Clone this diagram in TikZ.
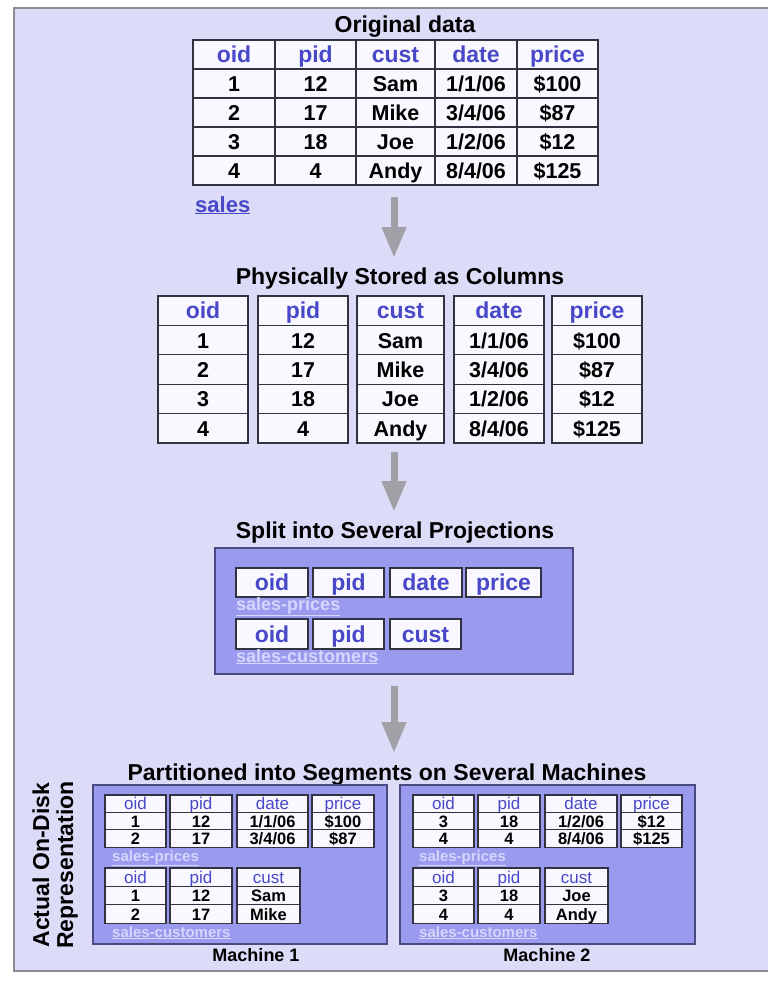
\documentclass[tikz,border=0pt]{standalone}
\usepackage{fontspec}
\setmainfont{Liberation Sans}
\usetikzlibrary{arrows.meta}
\definecolor{bgc}{RGB}{220,220,249}
\definecolor{bordc}{RGB}{140,140,150}
\definecolor{boxc}{RGB}{154,154,238}
\definecolor{boxb}{RGB}{74,74,128}
\definecolor{hdrc}{RGB}{72,72,200}
\definecolor{lblc}{RGB}{214,214,255}
\definecolor{linkc}{RGB}{72,72,200}
\definecolor{arrc}{RGB}{160,160,166}
\definecolor{cellc}{RGB}{248,248,254}
\definecolor{celb}{RGB}{50,50,64}
\tikzset{
 cellbox/.style={draw=celb, line width=1.2pt, fill=cellc, inner sep=0pt, outer sep=0pt, anchor=north west},
 bighdr/.style={text=hdrc, font=\fontsize{23}{23}\selectfont\bfseries, text height=18pt, text depth=2pt},
 bigbod/.style={text=black, font=\fontsize{21.5}{21.5}\selectfont\bfseries, text height=18pt, text depth=2pt},
 smallhdr/.style={text=hdrc, font=\fontsize{17}{17}\selectfont, text height=13pt, text depth=1pt},
 smallbod/.style={text=black, font=\fontsize{16.5}{16.5}\selectfont\bfseries, text height=13pt, text depth=1pt},
 title/.style={font=\fontsize{23}{26}\selectfont\bfseries, text=black, inner sep=0pt, anchor=base},
 plabel/.style={text=lblc, font=\fontsize{18}{18}\selectfont\bfseries, anchor=base west, inner sep=0pt},
 mlabel/.style={text=lblc, font=\fontsize{15}{15}\selectfont\bfseries, anchor=base west, inner sep=0pt},
 machname/.style={font=\fontsize{18}{18}\selectfont\bfseries, text=black, inner sep=0pt, anchor=base},
 machbox/.style={draw=boxb, line width=2pt, fill=boxc},
 flow/.style={draw=arrc, line width=7pt, -{Triangle[width=23pt,length=31pt]}},
}
% #1 name, #2 x, #3 width, #4 ytop, #5 row height, #6 size prefix, #7 header, #8 entries
\newcommand\mkcol[8]{%
  \node[cellbox,#6hdr, minimum width=#3pt, minimum height=#5pt] (#1-0) at (#2,#4) {#7};
  \foreach \t [count=\i] in {#8} {
    \node[cellbox,#6bod, minimum width=#3pt, minimum height=#5pt] (#1-\i) at (#2,{#4+\i*#5}) {\t};
  }%
}
\begin{document}
\begin{tikzpicture}[x=1pt,y=-1pt]
\useasboundingbox (0,0) rectangle (768,1006);
\fill[white] (0,0) rectangle (768,1006);
\fill[bgc] (14,8) rectangle (768,971);
\draw[bordc, line width=2pt] (768,8) -- (14,8) -- (14,971) -- (768,971);

% ---------- Original data ----------
\node[title] (t1) at (405,33) {Original data};
\mkcol{ta}{193}{82}{40}{29}{big}{oid}{1,2,3,4}
\mkcol{tb}{275}{81}{40}{29}{big}{pid}{12,17,18,4}
\mkcol{tc}{356}{79}{40}{29}{big}{cust}{Sam,Mike,Joe,Andy}
\mkcol{td}{435}{82}{40}{29}{big}{date}{1/1/06,3/4/06,1/2/06,8/4/06}
\mkcol{te}{517}{81}{40}{29}{big}{price}{\$100,\$87,\$12,\$125}
\node[anchor=base west, inner sep=0pt, text=linkc, font=\fontsize{22}{22}\selectfont\bfseries] (sales) at (195,212) {\underline{sales}};

\coordinate (a1s) at (394,197);
\coordinate (a1e) at (394,258);
\draw[flow] (a1s) -- (a1e);

% ---------- Physically stored as columns ----------
\node[title] (t2) at (400,284) {Physically Stored as Columns};
\mkcol{ca}{158}{90}{296}{29.4}{big}{oid}{1,2,3,4}
\mkcol{cb}{258}{90}{296}{29.4}{big}{pid}{12,17,18,4}
\mkcol{cc}{357}{87}{296}{29.4}{big}{cust}{Sam,Mike,Joe,Andy}
\mkcol{cd}{454}{90}{296}{29.4}{big}{date}{1/1/06,3/4/06,1/2/06,8/4/06}
\mkcol{ce}{552}{90}{296}{29.4}{big}{price}{\$100,\$87,\$12,\$125}

\coordinate (a2s) at (394,452);
\coordinate (a2e) at (394,512);
\draw[flow] (a2s) -- (a2e);

% ---------- Projections ----------
\node[title] (t3) at (395,538) {Split into Several Projections};
\draw[machbox] (215,548) rectangle (573,674);
\node[cellbox,bighdr, minimum width=72pt, minimum height=29pt] (p1a) at (236,568) {oid};
\node[cellbox,bighdr, minimum width=71pt, minimum height=29pt] (p1b) at (313,568) {pid};
\node[cellbox,bighdr, minimum width=72pt, minimum height=29pt] (p1c) at (390,568) {date};
\node[cellbox,bighdr, minimum width=75pt, minimum height=29pt] (p1d) at (466,568) {price};
\node[plabel] (pl1) at (236,610) {\underline{sales-prices}};
\node[cellbox,bighdr, minimum width=72pt, minimum height=30pt] (p2a) at (236,619) {oid};
\node[cellbox,bighdr, minimum width=71pt, minimum height=30pt] (p2b) at (313,619) {pid};
\node[cellbox,bighdr, minimum width=71pt, minimum height=30pt] (p2c) at (390,619) {cust};
\node[plabel] (pl2) at (236,662) {\underline{sales-customers}};

\coordinate (a3s) at (394,686);
\coordinate (a3e) at (394,753);
\draw[flow] (a3s) -- (a3e);

% ---------- Partitioned ----------
\node[title] (t4) at (387,780) {Partitioned into Segments on Several Machines};
\node[title, rotate=90] (v1) at (49,865) {Actual On-Disk};
\node[title, rotate=90] (v2) at (73,865) {Representation};

% Machine 1
\draw[machbox] (93,785) rectangle (387,944);
\mkcol{m1a}{105}{61}{795}{17.4}{small}{oid}{1,2}
\mkcol{m1b}{170}{62}{795}{17.4}{small}{pid}{12,17}
\mkcol{m1c}{237}{71}{795}{17.4}{small}{date}{1/1/06,3/4/06}
\mkcol{m1d}{312}{62}{795}{17.4}{small}{price}{\$100,\$87}
\node[mlabel] (m1l1) at (112,861) {\underline{sales-prices}};
\mkcol{m1e}{105}{61}{868}{18.4}{small}{oid}{1,2}
\mkcol{m1f}{170}{62}{868}{18.4}{small}{pid}{12,17}
\mkcol{m1g}{237}{63}{868}{18.4}{small}{cust}{Sam,Mike}
\node[mlabel] (m1l2) at (112,937) {\underline{sales-customers}};
\node[machname] (mn1) at (256,961) {Machine 1};

% Machine 2
\draw[machbox] (400,785) rectangle (695,944);
\mkcol{m2a}{413}{61}{795}{17.4}{small}{oid}{3,4}
\mkcol{m2b}{478}{62}{795}{17.4}{small}{pid}{18,4}
\mkcol{m2c}{545}{72}{795}{17.4}{small}{date}{1/2/06,8/4/06}
\mkcol{m2d}{621}{61}{795}{17.4}{small}{price}{\$12,\$125}
\node[mlabel] (m2l1) at (419,861) {\underline{sales-prices}};
\mkcol{m2e}{413}{61}{868}{18.4}{small}{oid}{3,4}
\mkcol{m2f}{478}{62}{868}{18.4}{small}{pid}{18,4}
\mkcol{m2g}{545}{63}{868}{18.4}{small}{cust}{Joe,Andy}
\node[mlabel] (m2l2) at (419,937) {\underline{sales-customers}};
\node[machname] (mn2) at (547,961) {Machine 2};
\end{tikzpicture}
\end{document}
